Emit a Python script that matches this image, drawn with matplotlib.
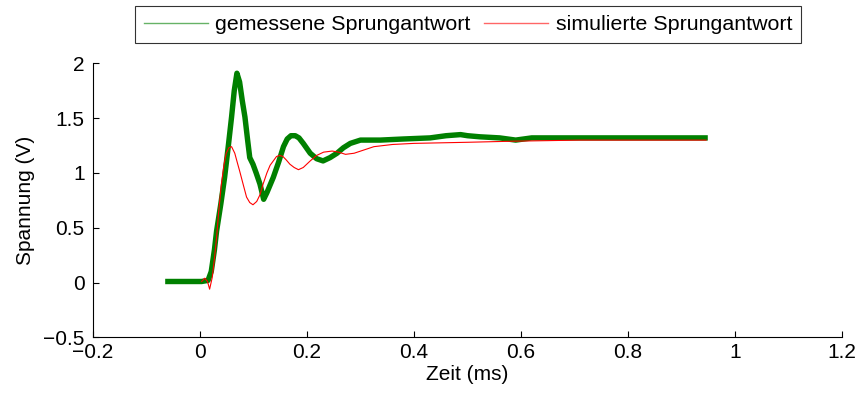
import matplotlib
matplotlib.use("Agg")
import matplotlib.pyplot as plt

plt.rcParams['font.family'] = ['Liberation Sans', 'DejaVu Sans']

# measured step response (time in ms, voltage in V)
t_meas = [-0.060, -0.03, 0.003, 0.015, 0.021, 0.027, 0.031, 0.039, 0.046, 0.053,
          0.059, 0.064, 0.069, 0.074, 0.079, 0.084, 0.089, 0.093, 0.099, 0.105,
          0.112, 0.119, 0.125, 0.131, 0.137, 0.147, 0.156, 0.163, 0.170, 0.178,
          0.185, 0.193, 0.206, 0.218, 0.230, 0.243, 0.256, 0.268, 0.281, 0.300,
          0.337, 0.38, 0.43, 0.46, 0.487, 0.50, 0.523, 0.56, 0.59, 0.62,
          0.71, 0.80, 0.88, 0.944]
v_meas = [0.01, 0.01, 0.01, 0.02, 0.10, 0.30, 0.47, 0.72, 0.96, 1.25,
          1.51, 1.75, 1.91, 1.83, 1.66, 1.51, 1.30, 1.14, 1.08, 1.00,
          0.90, 0.76, 0.82, 0.89, 0.96, 1.10, 1.24, 1.31, 1.34, 1.34,
          1.32, 1.27, 1.18, 1.13, 1.11, 1.14, 1.18, 1.23, 1.27, 1.30,
          1.30, 1.31, 1.32, 1.34, 1.35, 1.34, 1.33, 1.32, 1.30, 1.32,
          1.32, 1.32, 1.32, 1.32]

# simulated step response
t_sim = [0.003, 0.009, 0.014, 0.018, 0.023, 0.027, 0.031, 0.035, 0.040, 0.045,
         0.049, 0.054, 0.059, 0.065, 0.070, 0.074, 0.081, 0.087, 0.093, 0.099,
         0.106, 0.112, 0.118, 0.125, 0.131, 0.137, 0.143, 0.149, 0.155, 0.161,
         0.168, 0.176, 0.184, 0.193, 0.206, 0.218, 0.231, 0.247, 0.259, 0.272,
         0.288, 0.325, 0.36, 0.40, 0.45, 0.50, 0.585, 0.65, 0.71, 0.80,
         0.946]
v_sim = [0.01, 0.04, 0.01, -0.06, 0.05, 0.22, 0.41, 0.65, 0.90, 1.08,
         1.18, 1.23, 1.24, 1.18, 1.09, 1.02, 0.89, 0.78, 0.73, 0.71,
         0.74, 0.80, 0.90, 1.00, 1.07, 1.11, 1.15, 1.16, 1.15, 1.12,
         1.08, 1.05, 1.03, 1.05, 1.11, 1.16, 1.19, 1.20, 1.19, 1.17,
         1.18, 1.24, 1.26, 1.27, 1.275, 1.28, 1.29, 1.295, 1.30, 1.30,
         1.30]

x_ticks = [-0.2, 0, 0.2, 0.4, 0.6, 0.8, 1, 1.2]
x_labels = ['\u22120.2', '0', '0.2', '0.4', '0.6', '0.8', '1', '1.2']
y_ticks = [-0.5, 0, 0.5, 1, 1.5, 2]
y_labels = ['\u22120.5', '0', '0.5', '1', '1.5', '2']

FS = 15

fig = plt.figure(figsize=(8.61, 3.96), dpi=100)
ax = fig.add_axes([0.108, 0.148, 0.870, 0.692])

ax.plot(t_meas, v_meas, color='#008000', lw=3.9, solid_joinstyle='round',
        label='gemessene Sprungantwort')
ax.plot(t_sim, v_sim, color='#ff0000', lw=0.8, label='simulierte Sprungantwort')

ax.set_xlim(-0.2, 1.2)
ax.set_ylim(-0.5, 2)
ax.set_xticks(x_ticks)
ax.set_xticklabels(x_labels)
ax.set_yticks(y_ticks)
ax.set_yticklabels(y_labels)
ax.tick_params(direction='in', length=4, width=0.8, labelsize=FS)
ax.tick_params(axis='y', pad=6)
ax.tick_params(axis='x', pad=4)
for side in ('top', 'right'):
    ax.spines[side].set_visible(False)
for side in ('left', 'bottom'):
    ax.spines[side].set_linewidth(0.8)

ax.set_xlabel('Zeit (ms)', fontsize=FS, labelpad=2)
ax.set_ylabel('Spannung (V)', fontsize=FS, labelpad=6)

handles, labels = ax.get_legend_handles_labels()
leg = fig.legend(handles, labels, loc='center', bbox_to_anchor=(0.5436, 0.938),
                 ncol=2, fontsize=15.4, frameon=True, fancybox=False,
                 edgecolor='black', handlelength=3.0, handletextpad=0.34,
                 columnspacing=0.62, borderpad=0.4, borderaxespad=0)
leg.get_frame().set_linewidth(0.8)
for line in leg.get_lines():
    line.set_linewidth(1.0)
    line.set_alpha(0.6)

fig.savefig('out.png', dpi=100)
